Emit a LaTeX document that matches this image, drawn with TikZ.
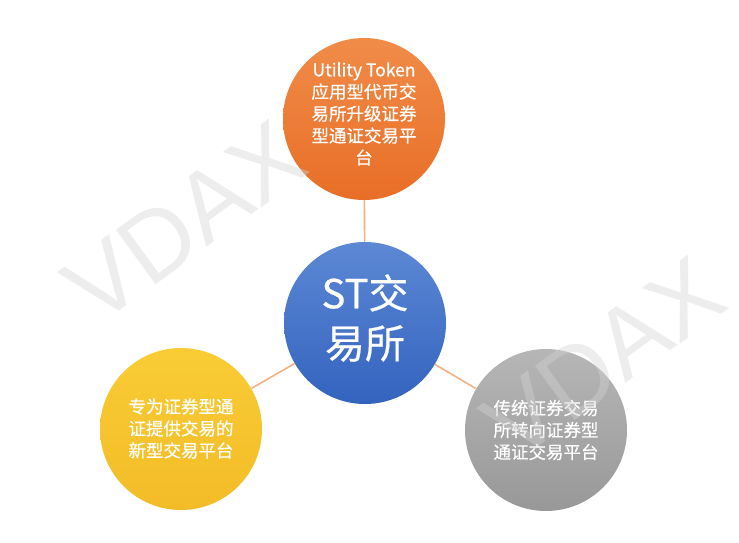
\documentclass[tikz,border=0pt]{standalone}
\usepackage{fontspec}
\newfontfamily\cjk[FakeBold=0.5]{Noto Sans CJK SC}
\newfontfamily\wmfont{Liberation Sans}
\definecolor{or1}{HTML}{F08C48}
\definecolor{or2}{HTML}{E86E27}
\definecolor{bl1}{HTML}{5C88D4}
\definecolor{bl2}{HTML}{3463BF}
\definecolor{ye1}{HTML}{F9CC35}
\definecolor{ye2}{HTML}{F2BC27}
\definecolor{gr1}{HTML}{B6B6B6}
\definecolor{gr2}{HTML}{989898}
\definecolor{linkc}{HTML}{F4B183}
\definecolor{wmc}{HTML}{D4D4D4}
\begin{document}
\begin{tikzpicture}[x=1pt,y=-1pt,
  bubble/.style={circle, inner sep=0pt, minimum size=162pt},
  label/.style={text=white, align=center, inner sep=0pt, font=\cjk\fontsize{17.5}{22}\selectfont},
  biglabel/.style={label, font=\cjk\fontsize{40}{50}\selectfont},
  link/.style={draw=linkc, line width=1.6pt},
  wm/.style={font=\wmfont\fontsize{98}{98}\selectfont, text=wmc, text opacity=0.4, rotate=36, inner sep=0pt}]
\useasboundingbox[fill=white] (0,0) rectangle (739,542);
\node[bubble, top color=or1, bottom color=or2] (top) at (364,119) {};
\node[label] (topt) at (364,114)
  {Utility Token\\应用型代币交\\易所升级证券\\型通证交易平\\台};
\node[bubble, top color=bl1, bottom color=bl2] (mid) at (365,323) {};
\node[biglabel] (midt) at (365,318) {ST交\\易所};
\node[bubble, top color=ye1, bottom color=ye2] (left) at (181,429) {};
\node[label] (leftt) at (181,428.5) {专为证券型通\\证提供交易的\\新型交易平台};
\node[bubble, top color=gr1, bottom color=gr2] (right) at (546,430) {};
\node[label] (rightt) at (546,430) {传统证券交易\\所转向证券型\\通证交易平台};
\draw[link] (mid) -- (top);
\draw[link] (mid) -- (left);
\draw[link] (mid) -- (right);
\node[wm] (wm1) at (185,222) {VDAX};
\node[wm] (wm2) at (604,358) {VDAX};
\end{tikzpicture}
\end{document}
